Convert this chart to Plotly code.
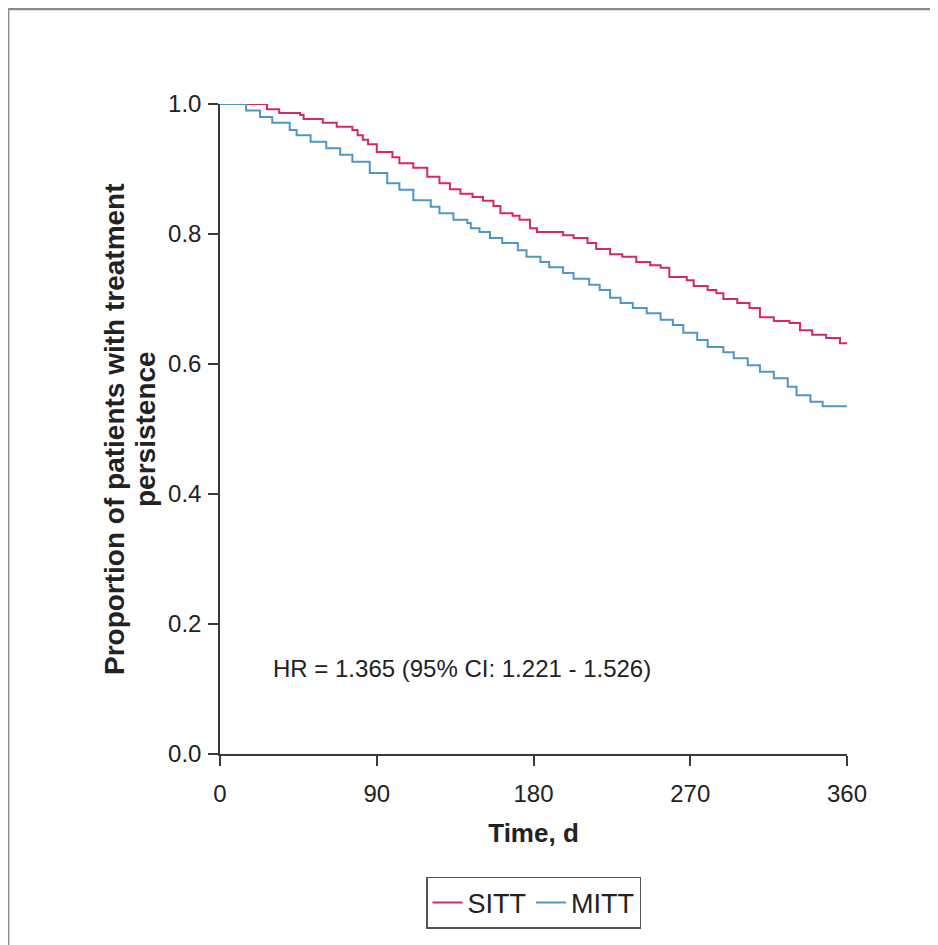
import plotly.graph_objects as go

# ---- data (Kaplan-Meier step curves) ----
sitt_days = [0, 27, 34, 46, 48, 59, 67, 76, 79, 82,
             85, 90, 99, 103, 111, 119, 126, 132, 138, 145,
             151, 157, 161, 168, 172, 178, 182, 197, 203, 211,
             216, 224, 231, 239, 247, 253, 258, 268, 272, 280,
             285, 289, 297, 304, 310, 318, 327, 333, 340, 348,
             356, 360]
sitt_surv = [1.0, 0.992, 0.986, 0.983, 0.977, 0.971, 0.965, 0.960, 0.952, 0.945,
             0.938, 0.926, 0.918, 0.909, 0.902, 0.888, 0.878, 0.869, 0.862, 0.857,
             0.851, 0.843, 0.832, 0.828, 0.822, 0.809, 0.803, 0.798, 0.794, 0.786,
             0.777, 0.769, 0.765, 0.757, 0.752, 0.748, 0.734, 0.729, 0.720, 0.714,
             0.709, 0.700, 0.694, 0.686, 0.672, 0.666, 0.663, 0.652, 0.645, 0.640,
             0.632, 0.632]

mitt_days = [0, 15, 23, 30, 40, 44, 52, 61, 69, 76,
             86, 96, 103, 111, 121, 126, 134, 142, 144, 149,
             155, 162, 171, 176, 184, 189, 197, 203, 212, 218,
             224, 230, 237, 245, 253, 260, 266, 274, 280, 289,
             295, 303, 310, 318, 326, 331, 339, 346, 360]
mitt_surv = [1.0, 0.99, 0.980, 0.971, 0.960, 0.952, 0.942, 0.932, 0.922, 0.911,
             0.894, 0.878, 0.868, 0.852, 0.842, 0.832, 0.822, 0.817, 0.809, 0.803,
             0.794, 0.786, 0.775, 0.765, 0.757, 0.749, 0.740, 0.731, 0.722, 0.714,
             0.702, 0.694, 0.686, 0.678, 0.668, 0.660, 0.648, 0.637, 0.626, 0.618,
             0.609, 0.598, 0.588, 0.578, 0.565, 0.552, 0.542, 0.535, 0.535]

x_ticks = [0, 90, 180, 270, 360]
y_ticks = [0.0, 0.2, 0.4, 0.6, 0.8, 1.0]
y_tick_labels = ["0.0", "0.2", "0.4", "0.6", "0.8", "1.0"]

series_names = ["SITT", "MITT"]
hr_text = "HR = 1.365 (95% CI: 1.221 - 1.526)"
y_title_lines = ["Proportion of patients with treatment", "persistence"]

RED = "#d12b62"
BLUE = "#5096c2"
AXIS = "#3a3a3a"
FONT = "Liberation Sans, Arial, sans-serif"

fig = go.Figure()
fig.add_trace(go.Scatter(x=sitt_days, y=sitt_surv, mode="lines", name=series_names[0],
                         line=dict(color=RED, width=2, shape="hv"), cliponaxis=False))
fig.add_trace(go.Scatter(x=mitt_days, y=mitt_surv, mode="lines", name=series_names[1],
                         line=dict(color=BLUE, width=2, shape="hv"), cliponaxis=False))

annotations = [dict(text=hr_text, xref="x", yref="y", x=29, y=0.132, xanchor="left",
                    yanchor="middle", showarrow=False,
                    font=dict(family=FONT, size=24, color="#222"))]
# two-line rotated y-axis title (tight line spacing as in the reference)
for txt, xp in zip(y_title_lines, [-0.169, -0.1196]):
    annotations.append(dict(text="<b>" + txt + "</b>", xref="paper", yref="paper", x=xp, y=0.50,
                            xanchor="center", yanchor="middle", textangle=-90, showarrow=False,
                            font=dict(family=FONT, size=28, color="#222")))

fig.update_layout(
    width=930, height=937,
    margin=dict(l=212, r=91, t=96, b=191),
    paper_bgcolor="white", plot_bgcolor="white",
    font=dict(family=FONT, size=24, color="#222"),
    showlegend=True,
    legend=dict(orientation="h", x=0.5, xanchor="center", y=-0.229, yanchor="middle",
                bordercolor="#555", borderwidth=1.5, font=dict(family=FONT, size=27, color="#222"),
                itemwidth=30, tracegroupgap=0),
    xaxis=dict(range=[0, 360], tickvals=x_ticks, ticks="outside", ticklen=10, tickwidth=1.5,
               tickcolor=AXIS, showline=True, linecolor=AXIS, linewidth=1.5, showgrid=False,
               zeroline=False, ticklabelstandoff=7,
               tickfont=dict(family=FONT, size=24, color="#222"),
               title=dict(text="<b>Time, d</b>", standoff=18,
                          font=dict(family=FONT, size=26, color="#222"))),
    yaxis=dict(range=[0, 1], tickvals=y_ticks, ticktext=y_tick_labels, ticks="outside",
               ticklen=10, tickwidth=1.5, tickcolor=AXIS, showline=True, linecolor=AXIS,
               linewidth=1.5, showgrid=False, zeroline=False, ticklabelstandoff=2,
               tickfont=dict(family=FONT, size=24, color="#222")),
    annotations=annotations,
    shapes=[
        dict(type="line", xref="paper", yref="paper", x0=-0.338, x1=-0.338, y0=1.146, y1=-0.30,
             line=dict(color="#8a8a8a", width=2.5)),
        dict(type="line", xref="paper", yref="paper", x0=-0.338, x1=1.2, y0=1.146, y1=1.146,
             line=dict(color="#8a8a8a", width=2.5)),
    ],
)

fig.write_html("out.html")
